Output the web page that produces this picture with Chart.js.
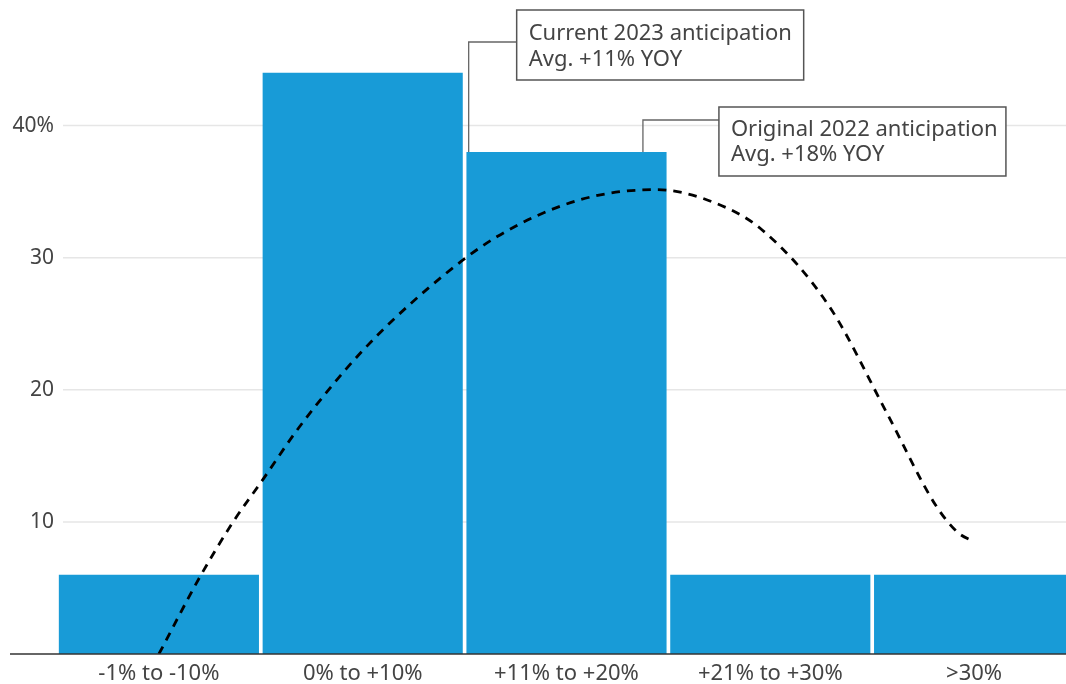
<!DOCTYPE html>
<html><head><meta charset="utf-8">
<script src="https://cdn.jsdelivr.net/npm/chart.js@4"></script>
<style>html,body{margin:0;padding:0;overflow:hidden;background:#fff;width:1066px;height:684px}canvas{display:block}</style>
</head><body>
<canvas id="c" width="1076" height="684"></canvas>
<script>
const categories = ['-1% to -10%', '0% to +10%', '+11% to +20%', '+21% to +30%', '>30%'];
const shareValues = [6, 44, 38, 6, 6];
const yTicks = [10, 20, 30, 40];
// dashed curve, x in category-index units
const curveX = [0.0, 0.2, 0.36, 0.51, 0.69, 0.99, 1.33, 1.66, 2.07, 2.44, 2.72, 2.96, 3.29, 3.57, 3.81, 3.92, 4.0];
const curveY = [0, 5.8, 9.9, 13.2, 17.2, 22.8, 27.8, 31.6, 34.4, 35.15, 34.2, 32.1, 26.3, 18.3, 11.3, 9.2, 8.5];
const annotationTexts = [['Current 2023 anticipation', 'Avg. +11% YOY'], ['Original 2022 anticipation', 'Avg. +18% YOY']];
const annotationX = [1.52, 2.375];
const annotationY = [38, 38];

const annLayout = [
  {dx: 48, top: 10, w: 287, h: 70, leaderY: 42, l1: 30, l2: 56},
  {dx: 76, top: 107, w: 287, h: 69, leaderY: 120, l1: 29, l2: 54}
];
const FONT = '"Noto Sans", "Open Sans", sans-serif';
const FS = 22;
const TXT = '#444';

const decor = {
  id: 'decor',
  beforeDatasetsDraw(chart) {
    const {ctx, chartArea, scales: {y}} = chart;
    ctx.save();
    ctx.strokeStyle = '#e6e6e6';
    ctx.lineWidth = 1.5;
    yTicks.forEach(v => {
      const py = y.getPixelForValue(v);
      ctx.beginPath(); ctx.moveTo(chartArea.left + 6, py); ctx.lineTo(chart.width, py); ctx.stroke();
    });
    ctx.restore();
  },
  afterDatasetsDraw(chart) {
    const {ctx, scales: {y}} = chart;
    ctx.save();
    ctx.strokeStyle = '#333';
    ctx.lineWidth = 1.5;
    const py = y.getPixelForValue(0);
    ctx.beginPath(); ctx.moveTo(10, py); ctx.lineTo(chart.width, py); ctx.stroke();
    ctx.restore();
  },
  afterDraw(chart) {
    const {ctx, scales: {y, xl}} = chart;
    ctx.save();
    annotationTexts.forEach((lines, i) => {
      const L = annLayout[i];
      const ax = xl.getPixelForValue(annotationX[i]);
      const ay = y.getPixelForValue(annotationY[i]);
      const bx = ax + L.dx;
      ctx.strokeStyle = '#666';
      ctx.lineWidth = 1.3;
      ctx.beginPath();
      ctx.moveTo(ax, ay); ctx.lineTo(ax, L.leaderY); ctx.lineTo(bx, L.leaderY);
      ctx.stroke();
      ctx.fillStyle = '#fff';
      ctx.fillRect(bx, L.top, L.w, L.h);
      ctx.strokeStyle = '#555';
      ctx.lineWidth = 1.5;
      ctx.strokeRect(bx, L.top, L.w, L.h);
      ctx.fillStyle = TXT;
      ctx.font = FS + 'px ' + FONT;
      ctx.textBaseline = 'alphabetic';
      ctx.textAlign = 'left';
      ctx.fillText(lines[0], bx + 12, L.top + L.l1);
      ctx.fillText(lines[1], bx + 12, L.top + L.l2);
    });
    ctx.restore();
  }
};

new Chart(document.getElementById('c'), {
  type: 'bar',
  data: {
    labels: categories,
    datasets: [
      {
        type: 'line',
        data: curveX.map((x, i) => ({x: x, y: curveY[i]})),
        xAxisID: 'xl',
        yAxisID: 'y',
        borderColor: '#000',
        borderWidth: 2.8,
        borderDash: [8.5, 7],
        pointRadius: 0,
        cubicInterpolationMode: 'monotone',
        fill: false,
        order: 0
      },
      {
        type: 'bar',
        data: shareValues,
        xAxisID: 'x',
        yAxisID: 'y',
        backgroundColor: '#189bd7',
        borderWidth: 0,
        grouped: false,
        barPercentage: 0.982,
        categoryPercentage: 1.0,
        order: 1
      }
    ]
  },
  options: {
    responsive: false,
    animation: false,
    devicePixelRatio: 1,
    layout: {padding: 0},
    plugins: {legend: {display: false}, tooltip: {enabled: false}},
    scales: {
      x: {
        type: 'category',
        offset: true,
        grid: {display: false, drawTicks: false},
        border: {display: false},
        ticks: {color: TXT, font: {family: FONT, size: 22}, padding: 7, maxRotation: 0, autoSkip: false},
        afterFit(s) { s.height = 30; }
      },
      xl: {
        type: 'linear',
        display: false,
        offset: false,
        grid: {offset: false},
        min: -0.5,
        max: 4.5
      },
      y: {
        type: 'linear',
        min: 0,
        max: 49.2,
        grid: {display: false, drawTicks: false},
        border: {display: false},
        afterBuildTicks(s) { s.ticks = yTicks.map(v => ({value: v})); },
        afterFit(s) { s.width = 57; },
        ticks: {
          color: TXT,
          font: {family: FONT, size: 21, lineHeight: 0.1},
          padding: 3,
          callback: v => v === 40 ? v + '%' : String(v)
        }
      }
    }
  },
  plugins: [decor]
});
</script>
</body></html>
